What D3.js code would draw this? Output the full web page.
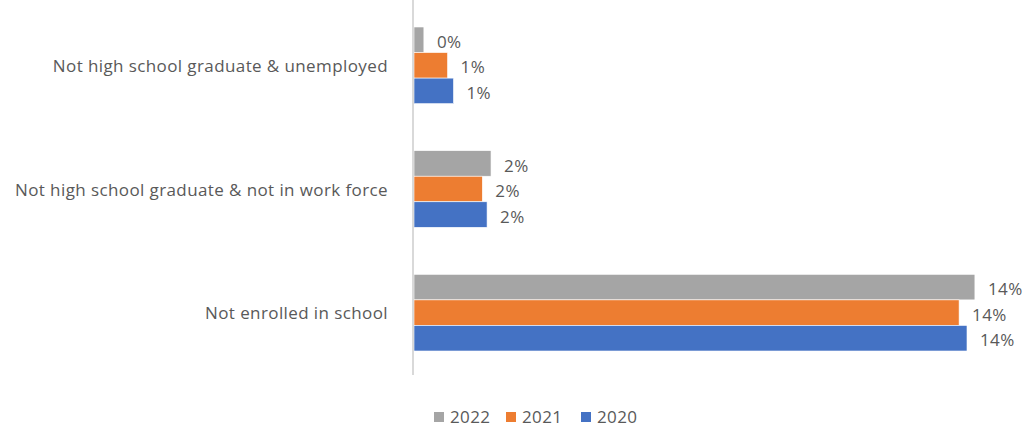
<!DOCTYPE html>
<html><head><meta charset="utf-8">
<script src="https://cdn.jsdelivr.net/npm/d3@7"></script>
<style>body{margin:0;background:#fff}svg{display:block}text{font-family:"Open Sans","Liberation Sans",sans-serif;fill:#595959;letter-spacing:0.4px}</style>
</head><body><svg id="c" width="1026" height="432"></svg>
<script>
const categories = ["Not high school graduate & unemployed", "Not high school graduate & not in work force", "Not enrolled in school"];
const seriesNames = ["2022", "2021", "2020"];
const values2022 = [0.25, 1.95, 14.2];
const values2021 = [0.85, 1.73, 13.8];
const values2020 = [1.0, 1.85, 14.0];
const seriesColors = ["#A5A5A5", "#ED7D31", "#4472C4"];

const series = [values2022, values2021, values2020];
const svg = d3.select("#c");
const x0 = 414;
const fs = 17;
const x = d3.scaleLinear().domain([0, 15]).range([x0, x0 + 15 * 39.5]);
const y = d3.scaleBand().domain(categories).range([3.5, 374.5]).paddingInner(0.38).paddingOuter(0.19);
const ys = d3.scaleBand().domain(seriesNames).range([0, y.bandwidth()]);
const fmt = v => d3.format(".0%")(v / 100);

categories.forEach((c, ci) => {
  const g = svg.append("g").attr("transform", `translate(0,${y(c)})`);
  seriesNames.forEach((s, si) => {
    const v = series[si][ci];
    g.append("rect").attr("x", x(0)).attr("y", ys(s)).attr("width", x(v) - x(0)).attr("height", ys.bandwidth())
      .attr("fill", seriesColors[si]).attr("stroke", "#fff").attr("stroke-width", 0.6);
    g.append("text").attr("x", x(v) + 13).attr("y", ys(s) + ys.bandwidth() / 2 + 2).attr("dy", "0.36em")
      .attr("font-size", fs).text(fmt(v));
  });
});

// category axis
const yAxis = svg.append("g").attr("transform", `translate(${x0 - 1},0)`)
  .call(d3.axisLeft(y).tickSize(0).tickPadding(25));
yAxis.select(".domain").attr("stroke", "#d9d9d9").attr("stroke-width", 2).attr("d", "M0,0V375");
yAxis.selectAll("text").attr("font-size", fs).attr("fill", "#595959").attr("dy", "0.4em")
  .style("font-family", '"Open Sans","Liberation Sans",sans-serif');

// legend
const legX = [434, 506, 581];
const leg = svg.append("g");
seriesNames.forEach((s, i) => {
  leg.append("rect").attr("x", legX[i]).attr("y", 412).attr("width", 10).attr("height", 10).attr("fill", seriesColors[i]);
  leg.append("text").attr("x", legX[i] + 16).attr("y", 417).attr("dy", "0.36em").attr("font-size", fs).text(s);
});
</script></body></html>
